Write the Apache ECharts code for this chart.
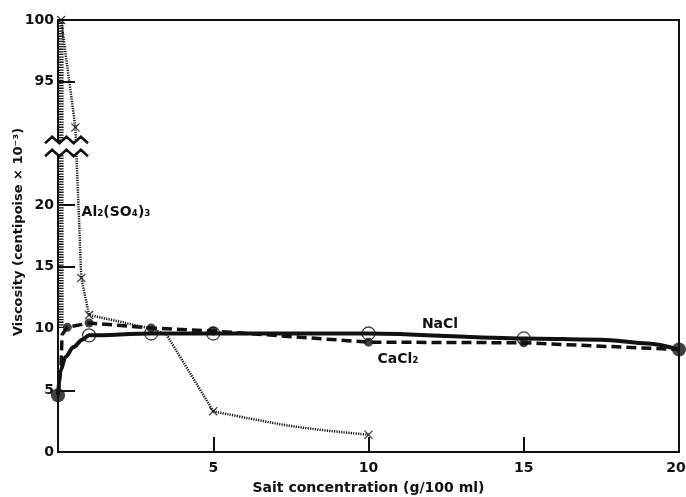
<!DOCTYPE html>
<html><head><meta charset="utf-8">
<script src="https://cdn.jsdelivr.net/npm/echarts@6/dist/echarts.min.js"></script>
<style>html,body{margin:0;padding:0;background:#fff}#c{width:686px;height:497px}</style>
</head><body><div id="c"></div>
<script>
// ---- axis break (values between BREAK_LOW and BREAK_HIGH are cut out) ----
const BREAK_LOW = 25, BREAK_HIGH = 90;

// ---- tick labels ----
const xTickLabels = [5, 10, 15, 20];
const xTickMarks = [5, 10, 15];
const yTickLabels = [0, 5, 10, 15, 20, 95, 100];
const yTickMarks = [5, 15, 20, 95];

// ---- NaCl (solid) ----
const naclX = [0, 0.08, 0.24, 0.5, 0.78, 1, 3, 5, 10, 15, 17.5, 19, 20];
const naclY = [4.6, 6.6, 7.7, 8.5, 9.1, 9.45, 9.6, 9.6, 9.6, 9.2, 9.1, 8.8, 8.3];
const naclMarkX = [1, 3, 5, 10, 15];
const naclMarkY = [9.45, 9.6, 9.6, 9.6, 9.2];

// ---- CaCl2 (dashed) ----
const caclX = [0, 0.1, 0.13, 0.3, 1, 3, 5, 10, 15, 20];
const caclY = [4.6, 7.0, 9.5, 10.1, 10.45, 10.05, 9.8, 8.9, 8.85, 8.3];
const caclMarkX = [0.3, 1, 3, 5, 10, 15];
const caclMarkY = [10.1, 10.45, 10.05, 9.8, 8.9, 8.85];

// ---- common end points ----
const endX = [0, 20];
const endY = [4.6, 8.3];

// ---- Al2(SO4)3 (dotted) ----
const alUpperX = [0.1, 0.56, 0.75, 1, 3, 3.5, 5];
const alUpperY = [100, 91.3, 14.1, 11.1, 10.0, 9.5, 3.3];
const alLowerX = [5, 6.2, 7.8, 10];
const alLowerY = [3.3, 2.7, 2.0, 1.4];
const alMarkX = [0.1, 0.56, 0.75, 1, 5, 10];
const alMarkY = [100, 91.3, 14.1, 11.1, 3.3, 1.4];

// ---- hatched line along the y axis ----
const hatchX = [0.1, 0.1];
const hatchY = [100, 10];

function yt(v) { return v <= BREAK_LOW ? v : v - (BREAK_HIGH - BREAK_LOW); }
function yInv(t) { return Math.round(t <= BREAK_LOW ? t : t + (BREAK_HIGH - BREAK_LOW)); }
function pts(xs, ys) { return xs.map((x, i) => [x, yt(ys[i])]); }

const FONT = "'DejaVu Sans', sans-serif";
const black = '#111';

const chart = echarts.init(document.getElementById('c'), null, {renderer: 'canvas'});

// zigzag break marks
function zig(y0, x0, x1, period, amp) {
  const p = [];
  const n = Math.round((x1 - x0) / (period / 2));
  for (let i = 0; i <= n; i++) p.push([x0 + i * (x1 - x0) / n, y0 + (i % 2 ? -amp : amp)]);
  return p;
}
const zTop = zig(140, 45, 88, 14.3, 3.2);
const zBot = zig(153, 45, 88, 14.3, 3.2);

const xMax = xTickLabels[xTickLabels.length - 1];

chart.setOption({
  animation: false,
  backgroundColor: '#fff',
  grid: {left: 58, right: 7, top: 20, bottom: 45, show: true, borderColor: black, borderWidth: 2,
         backgroundColor: 'transparent', containLabel: false, outerBoundsMode: 'none'},
  xAxis: {
    type: 'value', min: 0, max: xMax, interval: 5,
    axisLine: {show: true, lineStyle: {color: black, width: 2}},
    axisTick: {show: true, inside: true, length: 15, customValues: xTickMarks, lineStyle: {color: black, width: 2}},
    axisLabel: {customValues: xTickLabels, color: black, fontFamily: FONT, fontWeight: 'bold', fontSize: 14, margin: 9,
      formatter: v => v === xMax ? '{e|' + v + '}' : String(v),
      rich: {e: {color: black, fontFamily: FONT, fontWeight: 'bold', fontSize: 14, padding: [0, 6, 0, 0]}}},
    splitLine: {show: false},
    name: 'Sait concentration (g/100 ml)', nameLocation: 'middle', nameGap: 29, nameMoveOverlap: false,
    nameTextStyle: {color: black, fontFamily: FONT, fontWeight: 'bold', fontSize: 14}
  },
  yAxis: {
    type: 'value', min: 0, max: yt(100), interval: 5,
    axisLine: {show: true, lineStyle: {color: black, width: 2}},
    axisTick: {show: true, inside: true, length: 17, customValues: yTickMarks.map(yt), lineStyle: {color: black, width: 2}},
    axisLabel: {customValues: yTickLabels.map(yt), formatter: v => String(yInv(v)), color: black, fontFamily: FONT, fontWeight: 'bold', fontSize: 14, margin: 4},
    splitLine: {show: false},
    name: 'Viscosity (centipoise × 10⁻³)', nameLocation: 'middle', nameGap: 33, nameRotate: 90, nameMoveOverlap: false,
    nameTextStyle: {color: black, fontFamily: FONT, fontWeight: 'bold', fontSize: 13, padding: [0, 0, 0, 8]}
  },
  series: [
    {type: 'line', name: 'hatch', data: pts(hatchX, hatchY), showSymbol: false, silent: true,
     lineStyle: {color: black, width: 5, type: [1.3, 1.3]}},
    {type: 'line', name: 'Al2(SO4)3', data: pts(alUpperX, alUpperY), showSymbol: false,
     lineStyle: {color: black, width: 2.5, type: [1.2, 1.2]}},
    {type: 'line', name: 'Al2(SO4)3 b', data: pts(alLowerX, alLowerY), showSymbol: false, smooth: 0.4,
     lineStyle: {color: black, width: 2.5, type: [1.2, 1.2]}},
    {type: 'line', name: 'NaCl', data: pts(naclX, naclY), showSymbol: false, smooth: 0.3, smoothMonotone: 'x',
     lineStyle: {color: black, width: 4}},
    {type: 'line', name: 'CaCl2', data: pts(caclX, caclY), showSymbol: false,
     lineStyle: {color: black, width: 3.5, type: [10, 5]}},
    {type: 'scatter', name: 'NaCl ring', data: pts(naclMarkX, naclMarkY), symbol: 'circle', symbolSize: 13,
     itemStyle: {color: '#fff', borderColor: black, borderWidth: 1.3}},
    {type: 'scatter', name: 'NaCl dot', data: pts(naclMarkX, naclMarkY), symbol: 'circle', symbolSize: 3,
     itemStyle: {color: black}},
    {type: 'scatter', name: 'CaCl2 pts', data: pts(caclMarkX, caclMarkY), symbol: 'circle', symbolSize: 9,
     itemStyle: {color: black}},
    {type: 'scatter', name: 'Al pts', data: pts(alMarkX, alMarkY),
     symbol: 'path://M0,1L1,0L5,4L9,0L10,1L6,5L10,9L9,10L5,6L1,10L0,9L4,5Z', symbolSize: 9,
     itemStyle: {color: black}},
    {type: 'scatter', name: 'ends', data: pts(endX, endY), symbol: 'circle', symbolSize: 14,
     itemStyle: {color: black}, z: 5}
  ],
  graphic: [
    {type: 'polygon', z: 100, shape: {points: zTop.concat(zBot.slice().reverse())}, style: {fill: '#fff', stroke: null}},
    {type: 'polyline', z: 101, shape: {points: zTop}, style: {stroke: black, lineWidth: 2.5, fill: null}},
    {type: 'polyline', z: 101, shape: {points: zBot}, style: {stroke: black, lineWidth: 2.5, fill: null}},
    {type: 'text', z: 102, style: {x: 440, y: 324, text: 'NaCl', fill: black, font: "bold 14px 'DejaVu Sans'", textAlign: 'center', textVerticalAlign: 'middle'}},
    {type: 'text', z: 102, style: {x: 398, y: 359, text: 'CaCl₂', fill: black, font: "bold 14px 'DejaVu Sans'", textAlign: 'center', textVerticalAlign: 'middle'}},
    {type: 'text', z: 102, style: {x: 116, y: 212, text: 'Al₂(SO₄)₃', fill: black, font: "bold 14px 'DejaVu Sans'", textAlign: 'center', textVerticalAlign: 'middle'}}
  ]
});
</script>
</body></html>
